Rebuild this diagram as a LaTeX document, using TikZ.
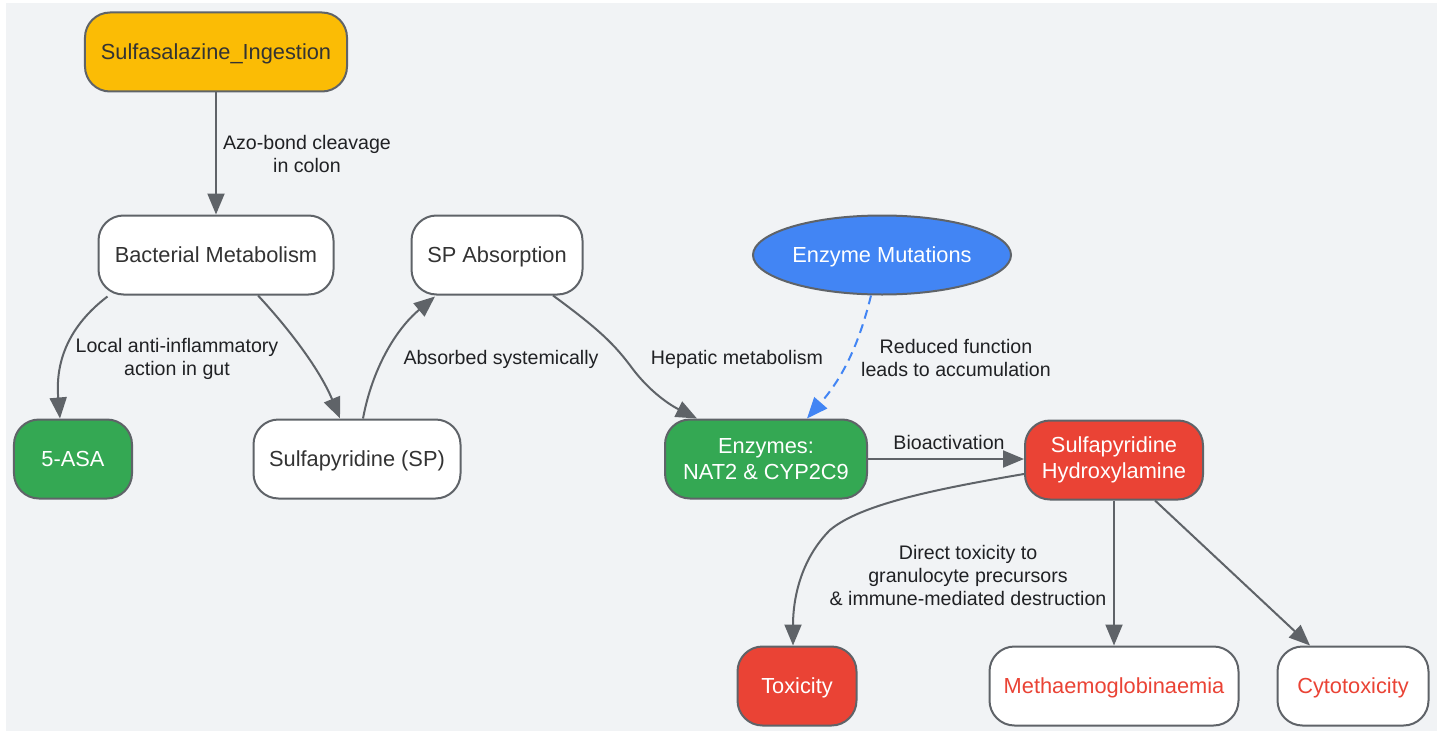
\documentclass[tikz,border=0pt]{standalone}
\usepackage{fontspec}
\setmainfont{Liberation Sans}
\usetikzlibrary{arrows.meta,calc,shapes.geometric}
\definecolor{bgc}{HTML}{F1F3F5}
\definecolor{strokec}{HTML}{5F6368}
\definecolor{yel}{HTML}{FBBC05}
\definecolor{grn}{HTML}{34A853}
\definecolor{redc}{HTML}{EA4335}
\definecolor{blu}{HTML}{4285F4}
\definecolor{txt}{HTML}{333333}
\definecolor{lbl}{HTML}{202124}
\newcommand{\nodefont}{\fontsize{21.8bp}{26bp}\selectfont}
\newcommand{\lblfont}{\fontsize{19.6bp}{23bp}\selectfont}
\tikzset{
  box/.style={draw=strokec, line width=2bp, rounded corners=25bp, minimum height=79bp,
    inner xsep=4bp, align=center, font=\nodefont, text=txt, fill=white},
  oneline/.style={text height=16bp, text depth=1bp},
  oval/.style={draw=strokec, line width=2bp, ellipse, minimum height=79bp, inner sep=0pt,
    align=center, font=\nodefont},
  edge/.style={draw=strokec, line width=2bp, -{Triangle[length=21bp,width=17bp]}},
  dashedge/.style={draw=blu, line width=2bp, dashed, dash pattern=on 9bp off 6bp,
    -{Triangle[length=21bp,width=17bp,fill=blu]}},
  lab/.style={font=\lblfont, text=lbl, align=center, inner sep=0pt}
}
\begin{document}
\begin{tikzpicture}[x=1bp,y=-1bp]
\useasboundingbox (0,0) rectangle (1445,731);
\fill[bgc] (6,3) rectangle (1437,731);

\node[box, oneline, fill=yel, minimum width=262bp] (ing) at (216,52) {Sulfasalazine\_Ingestion};
\node[box, oneline, minimum width=235bp] (bact) at (216,255) {Bacterial Metabolism};
\node[box, oneline, minimum width=171bp] (spabs) at (497,255) {SP Absorption};
\node[oval, oneline, fill=blu, text=white, minimum width=258bp] (mut) at (882,255) {Enzyme Mutations};
\node[box, oneline, fill=grn, text=white, minimum width=118bp] (asa) at (73,459) {5-ASA};
\node[box, oneline, minimum width=207bp] (sp) at (357,459) {Sulfapyridine (SP)};
\node[box, fill=grn, text=white, minimum width=202bp] (enz) at (766,459) {Enzymes:\\NAT2 \& CYP2C9};
\node[box, fill=redc, text=white, minimum width=178bp] (hyd) at (1114,460) {Sulfapyridine\\Hydroxylamine};
\node[box, oneline, fill=redc, text=white, minimum width=119bp] (tox) at (797,686) {Toxicity};
\node[box, oneline, text=redc, minimum width=249bp] (met) at (1114,686) {Methaemoglobinaemia};
\node[box, oneline, text=redc, minimum width=151bp] (cyto) at (1353,686) {Cytotoxicity};

% edges
\draw[edge] (ing.south) -- (bact.north);
\draw[edge] ($(bact.south west)+(10,1)$) .. controls (70,325) and (55,360) .. ($(asa.north)+(-13,0)$);
\draw[edge] ($(bact.south)+(42,0)$) .. controls (290,330) and (320,370) .. ($(sp.north)+(-17,0)$);
\draw[edge] ($(sp.north)+(6,0)$) .. controls (372,370) and (395,330) .. ($(spabs.south)+(-62,1)$);
\draw[edge] ($(spabs.south)+(56,0)$) .. controls (600,330) and (615,345) .. (632,368)
   .. controls (650,392) and (670,405) .. ($(enz.north)+(-69,0)$);
\draw[dashedge] ($(mut.south)+(-11,0)$) .. controls (860,340) and (845,375) .. ($(enz.north)+(41,0)$);
\draw[edge] (enz.east) -- ($(hyd.west)+(0,-1)$);
\draw[edge] ($(hyd.west)+(0,14)$) .. controls (930,490) and (860,505) .. (830,530)
   .. controls (800,560) and (793,600) .. ($(tox.north)+(-4,0)$);
\draw[edge] (hyd.south) -- (met.north);
\draw[edge] ($(hyd.south)+(41,0)$) -- ($(cyto.north)+(-43,0)$);

% labels
\node[lab] (l1) at (307,154) {Azo-bond cleavage\\in colon};
\node[lab] (l2) at (177,359) {Local anti-inflammatory\\action in gut};
\node[lab] (l3) at (501,359) {Absorbed systemically};
\node[lab] (l4) at (737,359) {Hepatic metabolism};
\node[lab] (l5) at (956,358) {Reduced function\\leads to accumulation};
\node[lab] (l6) at (949,442) {Bioactivation};
\node[lab] (l7) at (968,575) {Direct toxicity to\\granulocyte precursors\\\& immune-mediated destruction};
\end{tikzpicture}
\end{document}
